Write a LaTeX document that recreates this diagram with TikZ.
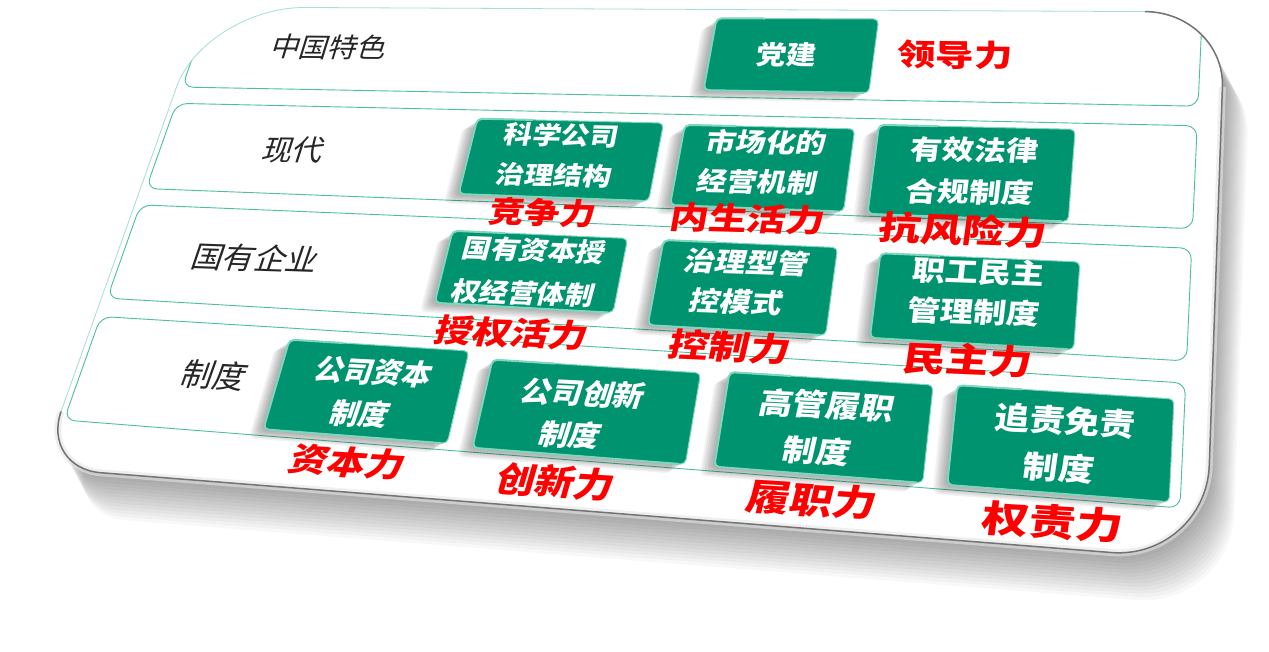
\documentclass[tikz,border=0pt]{standalone}
\usepackage{fontspec}
\newfontfamily\cjk{Noto Sans CJK SC}
\usetikzlibrary{calc}
\definecolor{boxgreen}{HTML}{00936F}
\definecolor{bevelc}{HTML}{7ED6BC}
\definecolor{bandline}{HTML}{4CBF9C}
\newcommand\mapc[3]{%
  \coordinate (tmpL) at ($(A)!#3!(D)$);
  \coordinate (tmpR) at ($(B)!#3!(C)$);
  \coordinate (#1) at ($(tmpL)!#2!(tmpR)$);}
\newcommand\gbox[5]{%
  \mapc{#1tl}{#2}{#4}\mapc{#1tr}{#3}{#4}\mapc{#1br}{#3}{#5}\mapc{#1bl}{#2}{#5}
  \foreach \k in {1,...,7}{\fill[black,opacity=0.05,rounded corners=6pt,transform canvas={shift={(-2.1pt*\k,-1.3pt*\k)}}] (#1tl)--(#1tr)--(#1br)--(#1bl)--cycle;}
  \fill[boxgreen,rounded corners=5pt] (#1tl)--(#1tr)--(#1br)--(#1bl)--cycle;
  \draw[bevelc,line width=1pt,rounded corners=5pt] (#1tl)--(#1tr)--(#1br)--(#1bl)--cycle;
  \draw[bevelc,line width=2pt,rounded corners=5pt] ($(#1tl)!0.3!(#1tr)$)--(#1tl)--(#1bl)--($(#1bl)!0.97!(#1br)$);}
\newcommand\band[3]{%
  \mapc{#1tl}{0}{#2}\mapc{#1tr}{1}{#2}\mapc{#1br}{1}{#3}\mapc{#1bl}{0}{#3}
  \draw[bandline,line width=0.9pt,rounded corners=11pt] (#1tl)--(#1tr)--(#1br)--(#1bl)--cycle;}
\newcommand\boardcmd[1]{\path[#1] (c4b) -- (c1a) .. controls ($(c1a)!0.55!(bTL)$) and ($(c1b)!0.55!(bTL)$) .. (c1b) -- (c2a) .. controls ($(c2a)!0.55!(bTR)$) and ($(c2b)!0.55!(bTR)$) .. (c2b) -- (c3a) .. controls ($(c3a)!0.55!(bBR)$) and ($(c3b)!0.55!(bBR)$) .. (c3b) -- (c4a) .. controls ($(c4a)!0.55!(bBL)$) and ($(c4b)!0.55!(bBL)$) .. (c4b) -- cycle;}
\begin{document}
\begin{tikzpicture}[x=1pt,y=-1pt,
  lbl/.style={font=\cjk\fontsize{#1}{#1}\selectfont,text=black!85,inner sep=0pt},
  boxtxt/.style n args={2}{font=\cjk\bfseries\fontsize{#1}{#2}\selectfont,text=white,align=center,inner sep=0pt},
  redtxt/.style={font=\cjk\bfseries\fontsize{#1}{#1}\selectfont,text=red,inner sep=0pt}]
\useasboundingbox (0,0) rectangle (1269,652);
\fill[white] (0,0) rectangle (1269,652);
% frame for rows
\coordinate (A) at (208,14);
\coordinate (B) at (1202,18);
\coordinate (C) at (1180,508);
\coordinate (D) at (64,420);
% board
\coordinate (bTL) at (205,7);
\coordinate (bTR) at (1225,12);
\coordinate (bBR) at (1206,560);
\coordinate (bBL) at (41,468);
\coordinate (c1a) at ($(bTL)!85pt!(bBL)$);
\coordinate (c1b) at ($(bTL)!100pt!(bTR)$);
\coordinate (c2a) at ($(bTR)!80pt!(bTL)$);
\coordinate (c2b) at ($(bTR)!75pt!(bBR)$);
\coordinate (c3a) at ($(bBR)!95pt!(bTR)$);
\coordinate (c3b) at ($(bBR)!95pt!(bBL)$);
\coordinate (c4a) at ($(bBL)!60pt!(bBR)$);
\coordinate (c4b) at ($(bBL)!60pt!(bTL)$);
\foreach \k in {1,...,14}{\boardcmd{fill=black,opacity=0.028,transform canvas={shift={(1.8pt*\k,-3.4pt*\k)}}}}
\boardcmd{fill=white}
\begin{scope}
\boardcmd{clip}
\band{rowa}{-0.03}{0.18}
\band{rowb}{0.22}{0.43}
\band{rowc}{0.47}{0.70}
\band{rowd}{0.745}{1.0}
\end{scope}
\boardcmd{draw=bandline!50,line width=0.8pt}
\draw[black!10,line width=7pt,opacity=0.6] (c2b) -- (c3a) .. controls ($(c3a)!0.55!(bBR)$) and ($(c3b)!0.55!(bBR)$) .. (c3b) -- (c4a) .. controls ($(c4a)!0.55!(bBL)$) and ($(c4b)!0.55!(bBL)$) .. (c4b);
\draw[black!55,line width=1.5pt] (c2a) .. controls ($(c2a)!0.55!(bTR)$) and ($(c2b)!0.55!(bTR)$) .. (c2b) -- (c3a) .. controls ($(c3a)!0.55!(bBR)$) and ($(c3b)!0.55!(bBR)$) .. (c3b) -- (c4a) .. controls ($(c4a)!0.55!(bBL)$) and ($(c4b)!0.55!(bBL)$) .. (c4b);
% row labels
\node[lbl=27,rotate=-0.5,xslant=0.3,xscale=1.07] (l1) at (330,47) {中国特色};
\node[lbl=29,rotate=-1,xslant=0.3,xscale=1.05] (l2) at (294,150) {现代};
\node[lbl=30,rotate=-2,xslant=0.3,xscale=1.05] (l3) at (256,258) {国有企业};
\node[lbl=32,rotate=-3,xslant=0.3] (l4) at (215,375) {制度};
% boxes
\gbox{dj}{0.512}{0.675}{0.005}{0.165}
\gbox{kx}{0.297}{0.479}{0.24}{0.415}
\gbox{sc}{0.50}{0.666}{0.243}{0.422}
\gbox{yx}{0.689}{0.881}{0.233}{0.425}
\gbox{gy}{0.30}{0.466}{0.50}{0.667}
\gbox{zl}{0.50}{0.665}{0.50}{0.69}
\gbox{zg}{0.706}{0.895}{0.508}{0.69}
\gbox{zb}{0.177}{0.342}{0.772}{0.985}
\gbox{cx}{0.365}{0.556}{0.788}{0.99}
\gbox{gg}{0.582}{0.769}{0.782}{0.99}
\gbox{zz}{0.791}{0.99}{0.779}{0.99}
% box texts
\node[boxtxt={26}{30},rotate=-0.5,xslant=0.12,xscale=1.15] (tdj) at (787,55) {党建};
\node[boxtxt={25}{40},rotate=-1,xslant=0.17,xscale=1.15] (tkx) at (558,155) {科学公司\\治理结构};
\node[boxtxt={26}{40},rotate=-1,xslant=0.2,xscale=1.15] (tsc) at (762,162) {市场化的\\经营机制};
\node[boxtxt={27}{42},rotate=-1,xslant=0.1,xscale=1.18] (tyx) at (972,171) {有效法律\\合规制度};
\node[boxtxt={26}{43},rotate=-2,xslant=0.23,xscale=1.1] (tgy) at (529,272) {国有资本授\\权经营体制};
\node[boxtxt={27}{40},rotate=-2,xslant=0.22,xscale=1.15] (tzl) at (742,282) {治理型管\\控模式};
\node[boxtxt={28}{40},rotate=-2,xslant=0.08,xscale=1.18] (tzg) at (976,292) {职工民主\\管理制度};
\node[boxtxt={29}{43},rotate=-3,xslant=0.28] (tzb) at (367,393) {公司资本\\制度};
\node[boxtxt={29}{42},rotate=-3,xslant=0.26,xscale=1.06] (tcx) at (577,414) {公司创新\\制度};
\node[boxtxt={30}{46},rotate=-3,xslant=0.17,xscale=1.12] (tgg) at (822,428) {高管履职\\制度};
\node[boxtxt={31}{47},rotate=-3.5,xslant=0.08,xscale=1.14] (tzz) at (1062,444) {追责免责\\制度};
% red labels
\node[redtxt=30,rotate=-0.5,xscale=1.28] (r1) at (955,55) {领导力};
\node[redtxt=30,rotate=-1.5,xscale=1.18,xslant=0.15] (r2) at (543,213) {竞争力};
\node[redtxt=31,rotate=-1.5,xscale=1.25,xslant=0.12] (r3) at (748,219) {内生活力};
\node[redtxt=33,rotate=-2,xscale=1.27,xslant=0.08] (r4) at (963,230) {抗风险力};
\node[redtxt=32,rotate=-2.5,xscale=1.19,xslant=0.2] (r5) at (512,333) {授权活力};
\node[redtxt=33,rotate=-2.5,xscale=1.23,xslant=0.15] (r6) at (730,347) {控制力};
\node[redtxt=34,rotate=-2.5,xscale=1.27,xslant=0.08] (r7) at (968,360) {民主力};
\node[redtxt=33,rotate=-3.5,xscale=1.16,xslant=0.25] (r8) at (348,462) {资本力};
\node[redtxt=35,rotate=-3.5,xscale=1.12,xslant=0.2] (r9) at (556,482) {创新力};
\node[redtxt=36,rotate=-3.5,xscale=1.2,xslant=0.15] (r10) at (812,500) {履职力};
\node[redtxt=37,rotate=-3.5,xscale=1.27,xslant=0.06] (r11) at (1053,522) {权责力};
\end{tikzpicture}
\end{document}
